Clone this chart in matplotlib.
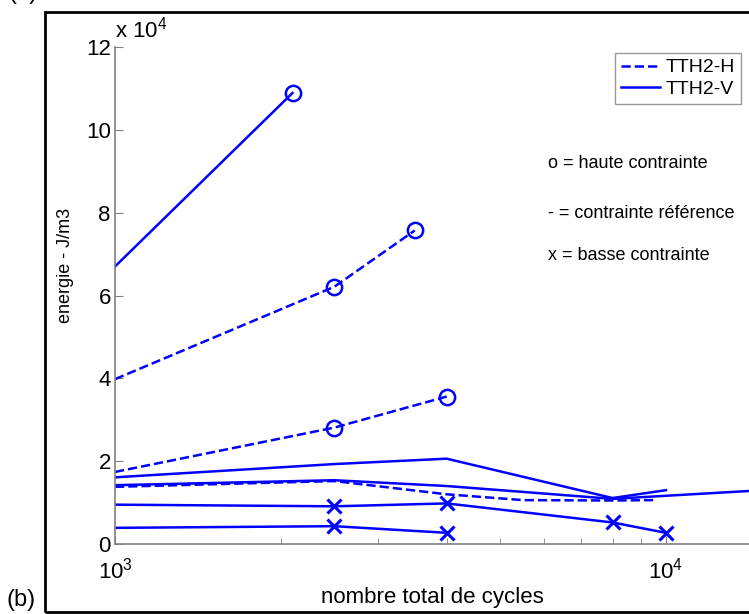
import matplotlib
matplotlib.use("Agg")
import matplotlib.pyplot as plt
from matplotlib.lines import Line2D
from matplotlib.patches import Rectangle

plt.rcParams['font.family'] = ['Liberation Sans', 'DejaVu Sans']
plt.rcParams['mathtext.fontset'] = 'custom'
plt.rcParams['mathtext.rm'] = 'Liberation Sans'
plt.rcParams['mathtext.it'] = 'Liberation Sans'

# energy values in units of 1e4 J/m3
v_high_x = [1000, 2100]
v_high_y = [6.70, 10.89]

h_high1_x = [1000, 2500, 3500]
h_high1_y = [3.98, 6.21, 7.57]

h_high2_x = [1000, 2500, 4000]
h_high2_y = [1.74, 2.81, 3.56]

v_ref1_x = [1000, 2500, 4000, 8000, 10000]
v_ref1_y = [1.61, 1.93, 2.06, 1.11, 1.30]

v_ref2_x = [1000, 2500, 4000, 8000, 14150]
v_ref2_y = [1.42, 1.54, 1.40, 1.09, 1.28]

h_ref_x = [1000, 2500, 4000, 5500, 8000, 9500]
h_ref_y = [1.38, 1.52, 1.20, 1.06, 1.05, 1.06]

v_low1_x = [1000, 2500, 4000, 8000, 10000]
v_low1_y = [0.95, 0.91, 0.98, 0.52, 0.27]

v_low2_x = [1000, 2500, 4000]
v_low2_y = [0.39, 0.43, 0.27]

blue = (0, 0, 1)
lw = 1.8
W, H = 749, 614

fig = plt.figure(figsize=(W / 100, H / 100), dpi=100)
ax = fig.add_axes([115 / W, 1 - 544 / H, 1 - 115 / W, (544 - 47) / H])

def s(vals):
    return [v * 1e4 for v in vals]

ax.plot(v_high_x, s(v_high_y), '-', color=blue, lw=lw, marker='o', markevery=[1],
        ms=11, mfc='none', mew=1.8)
ax.plot(h_high1_x, s(h_high1_y), '--', color=blue, lw=lw, marker='o', markevery=[1, 2],
        ms=11, mfc='none', mew=1.8)
ax.plot(h_high2_x, s(h_high2_y), '--', color=blue, lw=lw, marker='o', markevery=[1, 2],
        ms=11, mfc='none', mew=1.8)
ax.plot(v_ref1_x, s(v_ref1_y), '-', color=blue, lw=lw)
ax.plot(v_ref2_x, s(v_ref2_y), '-', color=blue, lw=lw)
ax.plot(h_ref_x, s(h_ref_y), '--', color=blue, lw=lw)
ax.plot(v_low1_x, s(v_low1_y), '-', color=blue, lw=lw, marker='x', markevery=[1, 2, 3, 4],
        ms=10, mew=2.2)
ax.plot(v_low2_x, s(v_low2_y), '-', color=blue, lw=lw, marker='x', markevery=[1, 2],
        ms=10, mew=2.2)

ax.set_xscale('log')
ax.set_xlim(1000, 14150)
ax.set_ylim(0, 12e4)

ax.set_yticks([i * 2e4 for i in range(7)])
ax.set_yticklabels([str(i * 2) for i in range(7)])
ax.set_xticks([1e3, 1e4])
ax.set_xticklabels([r'$10^3$', r'$10^4$'])

for side in ['top', 'right']:
    ax.spines[side].set_visible(False)
for side in ['left', 'bottom']:
    ax.spines[side].set_color('#808080')
    ax.spines[side].set_linewidth(1.2)
ax.tick_params(axis='both', which='both', direction='in', color='#808080', labelsize=16)
ax.tick_params(axis='both', which='major', length=6)
ax.tick_params(axis='x', which='minor', length=4)
ax.tick_params(axis='y', pad=3)
ax.tick_params(axis='x', pad=10)
ax.patch.set_alpha(0)

ax.text(0.0, 1.01, r'x $10^4$', transform=ax.transAxes, fontsize=16, va='bottom', ha='left')

ax.set_xlabel('nombre total de cycles', fontsize=16, labelpad=2)
ax.set_ylabel('energie - J/m3', fontsize=13)
ax.yaxis.set_label_coords(74 / W, 1 - 265 / H, transform=fig.transFigure)

handles = [Line2D([], [], color=blue, lw=lw, ls='--'),
           Line2D([], [], color=blue, lw=lw, ls='-')]
leg = ax.legend(handles, ['TTH2-H', 'TTH2-V'], loc='upper right',
                bbox_to_anchor=(741 / W, 1 - 53 / H), bbox_transform=fig.transFigure,
                fontsize=14, frameon=True, fancybox=False, handlelength=2.0,
                handletextpad=0.3, borderpad=0.3, labelspacing=0.2, borderaxespad=0)
leg.get_frame().set_edgecolor('#808080')
leg.get_frame().set_linewidth(1.0)

fig.text(548 / W, 1 - 163 / H, 'o = haute contrainte', fontsize=13, va='center', ha='left')
fig.text(548 / W, 1 - 214 / H, '- = contrainte référence', fontsize=13, va='center', ha='left')
fig.text(548 / W, 1 - 255 / H, 'x = basse contrainte', fontsize=13, va='center', ha='left')

# outer frame of the panel
fig.patches.append(Rectangle((45 / W, 1 - 612 / H), 2, (612 - 12) / H, transform=fig.transFigure,
                             fill=False, edgecolor='black', lw=2))
fig.text(6 / W, 1 - 589 / H, '(b)', fontsize=17, va='top', ha='left')
fig.text(8 / W, 1 + 7 / H, '(a)', fontsize=17, va='center', ha='left')

fig.savefig('out.png', dpi=100)
